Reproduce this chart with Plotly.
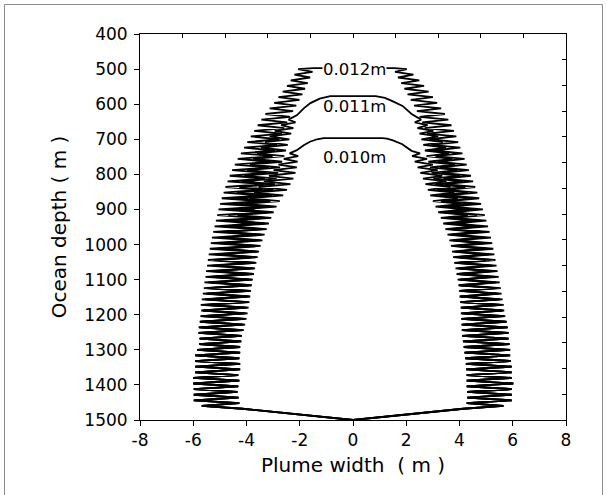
import plotly.graph_objects as go

# ---------------- data ----------------
# Stroke tips of the zig-zag plume edges: outer tip at depth D, inner tip at D+8 m.
# Shared lower part (all three cases coincide below ~1250 m)
D_BOT = [1460, 1444, 1428, 1412, 1396, 1380, 1364, 1348, 1332, 1316, 1300, 1284, 1268, 1252]
BOT_L_OUT = [-5.68, -5.98, -5.98, -5.98, -6.00, -6.00, -5.93, -5.93, -5.93, -5.93, -5.85, -5.78, -5.76, -5.80]
BOT_L_IN = [-4.15, -4.27, -4.30, -4.34, -4.31, -4.27, -4.31, -4.24, -4.24, -4.27, -4.24, -4.24, -4.20, -4.18]
BOT_R_OUT = [5.65, 5.96, 5.96, 5.96, 6.02, 5.96, 5.96, 5.96, 5.92, 5.90, 5.90, 5.88, 5.84, 5.84]
BOT_R_IN = [4.14, 4.27, 4.29, 4.29, 4.27, 4.27, 4.27, 4.25, 4.24, 4.22, 4.19, 4.16, 4.13, 4.10]

# 0.012 m case
D_012 = [1236, 1220, 1204, 1188, 1172, 1156, 1140, 1124, 1108, 1092, 1076, 1060, 1044, 1028, 1012,
         996, 980, 964, 948, 932, 916, 900, 884, 868, 852, 836, 820, 804, 788, 772,
         756, 740, 724, 708, 692, 676, 660, 644, 628, 612, 596, 580, 564, 548, 532,
         516, 500]
L012_OUT = [-5.80, -5.76, -5.73, -5.70, -5.72, -5.68, -5.64, -5.60, -5.58, -5.54, -5.52, -5.48, -5.45, -5.42, -5.38,
            -5.34, -5.30, -5.25, -5.20, -5.15, -5.10, -5.05, -4.99, -4.93, -4.86, -4.79, -4.71, -4.63, -4.54, -4.44,
            -4.33, -4.21, -4.09, -3.97, -3.84, -3.71, -3.58, -3.44, -3.29, -3.13, -2.96, -2.80, -2.64, -2.48, -2.34,
            -2.20, -2.06]
L012_IN = [-4.18, -4.15, -4.12, -4.10, -4.07, -4.05, -4.02, -3.99, -3.96, -3.94, -3.91, -3.89, -3.86, -3.83, -3.81,
           -3.78, -3.75, -3.72, -3.69, -3.66, -3.63, -3.59, -3.55, -3.50, -3.45, -3.40, -3.35, -3.30, -3.24, -3.17,
           -3.10, -3.02, -2.93, -2.85, -2.76, -2.67, -2.58, -2.47, -2.36, -2.25, -2.13, -2.01, -1.90, -1.80, -1.70,
           -1.61, -1.52]
R012_OUT = [5.82, 5.78, 5.72, 5.68, 5.66, 5.62, 5.58, 5.55, 5.51, 5.47, 5.43, 5.39, 5.35, 5.31, 5.27,
            5.23, 5.18, 5.13, 5.07, 5.01, 4.95, 4.88, 4.81, 4.74, 4.67, 4.59, 4.51, 4.43, 4.35, 4.27,
            4.19, 4.11, 4.03, 3.95, 3.88, 3.79, 3.70, 3.58, 3.45, 3.31, 3.16, 3.00, 2.84, 2.67, 2.49,
            2.27, 2.02]
R012_IN = [4.12, 4.12, 4.10, 4.09, 4.08, 4.07, 4.06, 4.05, 4.04, 4.03, 4.01, 3.99, 3.97, 3.95, 3.93,
           3.91, 3.88, 3.85, 3.82, 3.79, 3.76, 3.72, 3.68, 3.63, 3.58, 3.52, 3.46, 3.40, 3.33, 3.26,
           3.18, 3.10, 3.02, 2.94, 2.86, 2.78, 2.69, 2.60, 2.50, 2.40, 2.29, 2.17, 2.05, 1.93, 1.81,
           1.69, 1.58]
TOP_012_X = [-1.50, 1.55]
TOP_012_Y = [497, 497]

# 0.011 m case
D_011 = [1236, 1220, 1204, 1188, 1172, 1156, 1140, 1124, 1108, 1092, 1076, 1060, 1044, 1028, 1012,
         996, 980, 964, 948, 932, 916, 900, 884, 868, 852, 836, 820, 804, 788, 772,
         756, 740, 724, 708, 692, 676, 660, 644]
L011_OUT = [-5.78, -5.74, -5.69, -5.65, -5.60, -5.56, -5.51, -5.47, -5.42, -5.38, -5.33, -5.28, -5.23, -5.17, -5.10,
            -5.04, -4.97, -4.90, -4.84, -4.76, -4.68, -4.60, -4.52, -4.44, -4.36, -4.27, -4.18, -4.08, -3.98, -3.87,
            -3.75, -3.61, -3.46, -3.30, -3.13, -2.94, -2.70, -2.42]
L011_IN = [-4.15, -4.11, -4.06, -4.02, -3.98, -3.94, -3.90, -3.86, -3.82, -3.79, -3.75, -3.72, -3.68, -3.64, -3.59,
           -3.54, -3.49, -3.44, -3.39, -3.33, -3.27, -3.20, -3.15, -3.10, -3.05, -2.99, -2.93, -2.87, -2.81, -2.74,
           -2.66, -2.58, -2.52, -2.45, -2.39, -2.32, -2.24, -2.16]
R011_OUT = [5.80, 5.74, 5.67, 5.62, 5.57, 5.52, 5.47, 5.42, 5.37, 5.32, 5.27, 5.22, 5.16, 5.10, 5.04,
            4.98, 4.92, 4.86, 4.79, 4.72, 4.66, 4.60, 4.51, 4.41, 4.32, 4.22, 4.12, 4.02, 3.93, 3.83,
            3.73, 3.61, 3.49, 3.37, 3.20, 3.02, 2.80, 2.56]
R011_IN = [4.10, 4.09, 4.08, 4.07, 4.06, 4.05, 4.03, 4.02, 4.00, 3.99, 3.96, 3.94, 3.91, 3.88, 3.84,
           3.79, 3.74, 3.69, 3.64, 3.57, 3.51, 3.45, 3.38, 3.30, 3.23, 3.16, 3.09, 3.02, 2.95, 2.89,
           2.83, 2.76, 2.70, 2.64, 2.57, 2.50, 2.42, 2.32]
ARC_011_X = [-2.10, -1.85, -1.60, -1.25, -0.85, 0.85, 1.20, 1.50, 1.86, 2.20]
ARC_011_Y = [631, 612, 597, 584, 577, 577, 582, 592, 605, 628]

# 0.010 m case
D_010 = [1236, 1220, 1204, 1188, 1172, 1156, 1140, 1124, 1108, 1092, 1076, 1060, 1044, 1028, 1012,
         996, 980, 964, 948, 932, 916, 900, 884, 868, 852, 836, 820, 804, 788, 772,
         756, 740]
L010_OUT = [-5.76, -5.70, -5.64, -5.58, -5.53, -5.49, -5.44, -5.38, -5.33, -5.27, -5.20, -5.14, -5.08, -5.02, -4.95,
            -4.88, -4.78, -4.68, -4.58, -4.47, -4.34, -4.20, -4.05, -3.89, -3.72, -3.54, -3.35, -3.16, -2.98, -2.80,
            -2.60, -2.38]
L010_IN = [-4.10, -4.05, -4.00, -3.96, -3.92, -3.89, -3.86, -3.83, -3.80, -3.76, -3.72, -3.68, -3.63, -3.58, -3.53,
           -3.47, -3.40, -3.32, -3.24, -3.16, -3.07, -2.98, -2.87, -2.75, -2.62, -2.48, -2.35, -2.24, -2.16, -2.11,
           -2.08, -2.06]
R010_OUT = [5.78, 5.72, 5.66, 5.60, 5.53, 5.46, 5.39, 5.32, 5.25, 5.18, 5.12, 5.06, 4.99, 4.93, 4.86,
            4.79, 4.71, 4.63, 4.53, 4.42, 4.31, 4.20, 4.07, 3.94, 3.80, 3.66, 3.51, 3.35, 3.18, 3.00,
            2.78, 2.52]
R010_IN = [4.08, 4.07, 4.06, 4.05, 4.04, 4.02, 4.00, 3.98, 3.96, 3.93, 3.89, 3.85, 3.80, 3.76, 3.72,
           3.68, 3.62, 3.55, 3.47, 3.39, 3.30, 3.20, 3.10, 3.00, 2.90, 2.81, 2.72, 2.63, 2.53, 2.43,
           2.32, 2.22]
ARC_010_X = [-2.11, -1.85, -1.62, -1.35, -1.10, 1.10, 1.28, 1.50, 1.85, 2.20]
ARC_010_Y = [731, 717, 707, 700, 697, 697, 698, 703, 714, 733]

SOURCE_X, SOURCE_Y = 0.0, 1500.0
INNER_OFFSET = 8  # inner tip lies 8 m below its outer tip

LABELS = ["0.012m", "0.011m", "0.010m"]
LABEL_X = [0.05, 0.05, 0.05]
LABEL_Y = [502, 607, 752]
LABEL_BG = ["white", "rgba(0,0,0,0)", "rgba(0,0,0,0)"]

X_TICKS = [-8, -6, -4, -2, 0, 2, 4, 6, 8]
Y_TICKS = [400, 500, 600, 700, 800, 900, 1000, 1100, 1200, 1300, 1400, 1500]


def plume_path(d_up, lo, li, ro, ri, top_x, top_y):
    depths = D_BOT + d_up
    l_out = BOT_L_OUT + lo
    l_in = BOT_L_IN + li
    r_out = BOT_R_OUT + ro
    r_in = BOT_R_IN + ri
    xs, ys = [SOURCE_X], [SOURCE_Y]
    for o, i, d in zip(l_out, l_in, depths):
        xs += [i, o]
        ys += [d + INNER_OFFSET, d]
    xs += top_x
    ys += top_y
    for o, i, d in reversed(list(zip(r_out, r_in, depths))):
        xs += [o, i]
        ys += [d, d + INNER_OFFSET]
    xs.append(SOURCE_X)
    ys.append(SOURCE_Y)
    return xs, ys


curves = [
    (D_012, L012_OUT, L012_IN, R012_OUT, R012_IN, TOP_012_X, TOP_012_Y),
    (D_011, L011_OUT, L011_IN, R011_OUT, R011_IN, ARC_011_X, ARC_011_Y),
    (D_010, L010_OUT, L010_IN, R010_OUT, R010_IN, ARC_010_X, ARC_010_Y),
]

FONT = "DejaVu Sans"
fig = go.Figure()
for c in curves:
    xs, ys = plume_path(*c)
    fig.add_trace(go.Scatter(x=xs, y=ys, mode="lines",
                             line=dict(color="black", width=1.8),
                             hoverinfo="skip", showlegend=False))

# dummy trace to activate mirrored top/right axes
fig.add_trace(go.Scatter(x=[None], y=[None], xaxis="x2", yaxis="y2",
                         mode="lines", showlegend=False, hoverinfo="skip"))

for txt, lx, ly, bg in zip(LABELS, LABEL_X, LABEL_Y, LABEL_BG):
    fig.add_annotation(x=lx, y=ly, text=txt, showarrow=False,
                       font=dict(family=FONT, size=16.5, color="black"),
                       bgcolor=bg, borderpad=0)

axis_common = dict(showgrid=False, zeroline=False, showline=True,
                   linecolor="black", linewidth=1, mirror=False,
                   tickcolor="black", tickwidth=1)

fig.update_layout(
    width=607, height=495,
    margin=dict(l=140, r=41, t=34, b=75),
    paper_bgcolor="white", plot_bgcolor="white",
    showlegend=False,
    xaxis=dict(range=[-8, 8], tickvals=X_TICKS, ticktext=[str(v) for v in X_TICKS],
               ticks="outside", ticklen=5,
               tickfont=dict(family=FONT, size=17, color="black"),
               title=dict(text="Plume width  ( m )", standoff=8,
                          font=dict(family=FONT, size=20, color="black")),
               **axis_common),
    yaxis=dict(range=[1500, 400], tickvals=Y_TICKS, ticktext=[str(v) for v in Y_TICKS],
               ticks="outside", ticklen=5, ticklabelstandoff=3,
               tickfont=dict(family=FONT, size=17, color="black"),
               title=dict(text="Ocean depth ( m )", standoff=12,
                          font=dict(family=FONT, size=20, color="black")),
               **axis_common),
    xaxis2=dict(range=[-8, 8], overlaying="x", side="top", anchor="y2",
                tickvals=[-8 + 1.6 * k for k in range(11)], ticks="inside", ticklen=4,
                showticklabels=False, **axis_common),
    yaxis2=dict(range=[1500, 400], overlaying="y", side="right", anchor="x2",
                tickvals=[400 + 1100 / 15 * k for k in range(16)], ticks="inside", ticklen=4,
                showticklabels=False, **axis_common),
)

# grey outer frame of the original figure
frame = dict(type="line", xref="paper", yref="paper",
             line=dict(color="#8a8a8a", width=1))
x0p, x1p = (4.5 - 140) / 426, (602.5 - 140) / 426
y_top, y_bot = (420 - 4.5) / 386, (420 - 495) / 386
fig.add_shape(x0=x0p, x1=x0p, y0=y_bot, y1=y_top, **frame)
fig.add_shape(x0=x0p, x1=x1p, y0=y_top, y1=y_top, **frame)
fig.add_shape(x0=x1p, x1=x1p, y0=y_bot, y1=y_top, **frame)

fig.write_html("out.html")
